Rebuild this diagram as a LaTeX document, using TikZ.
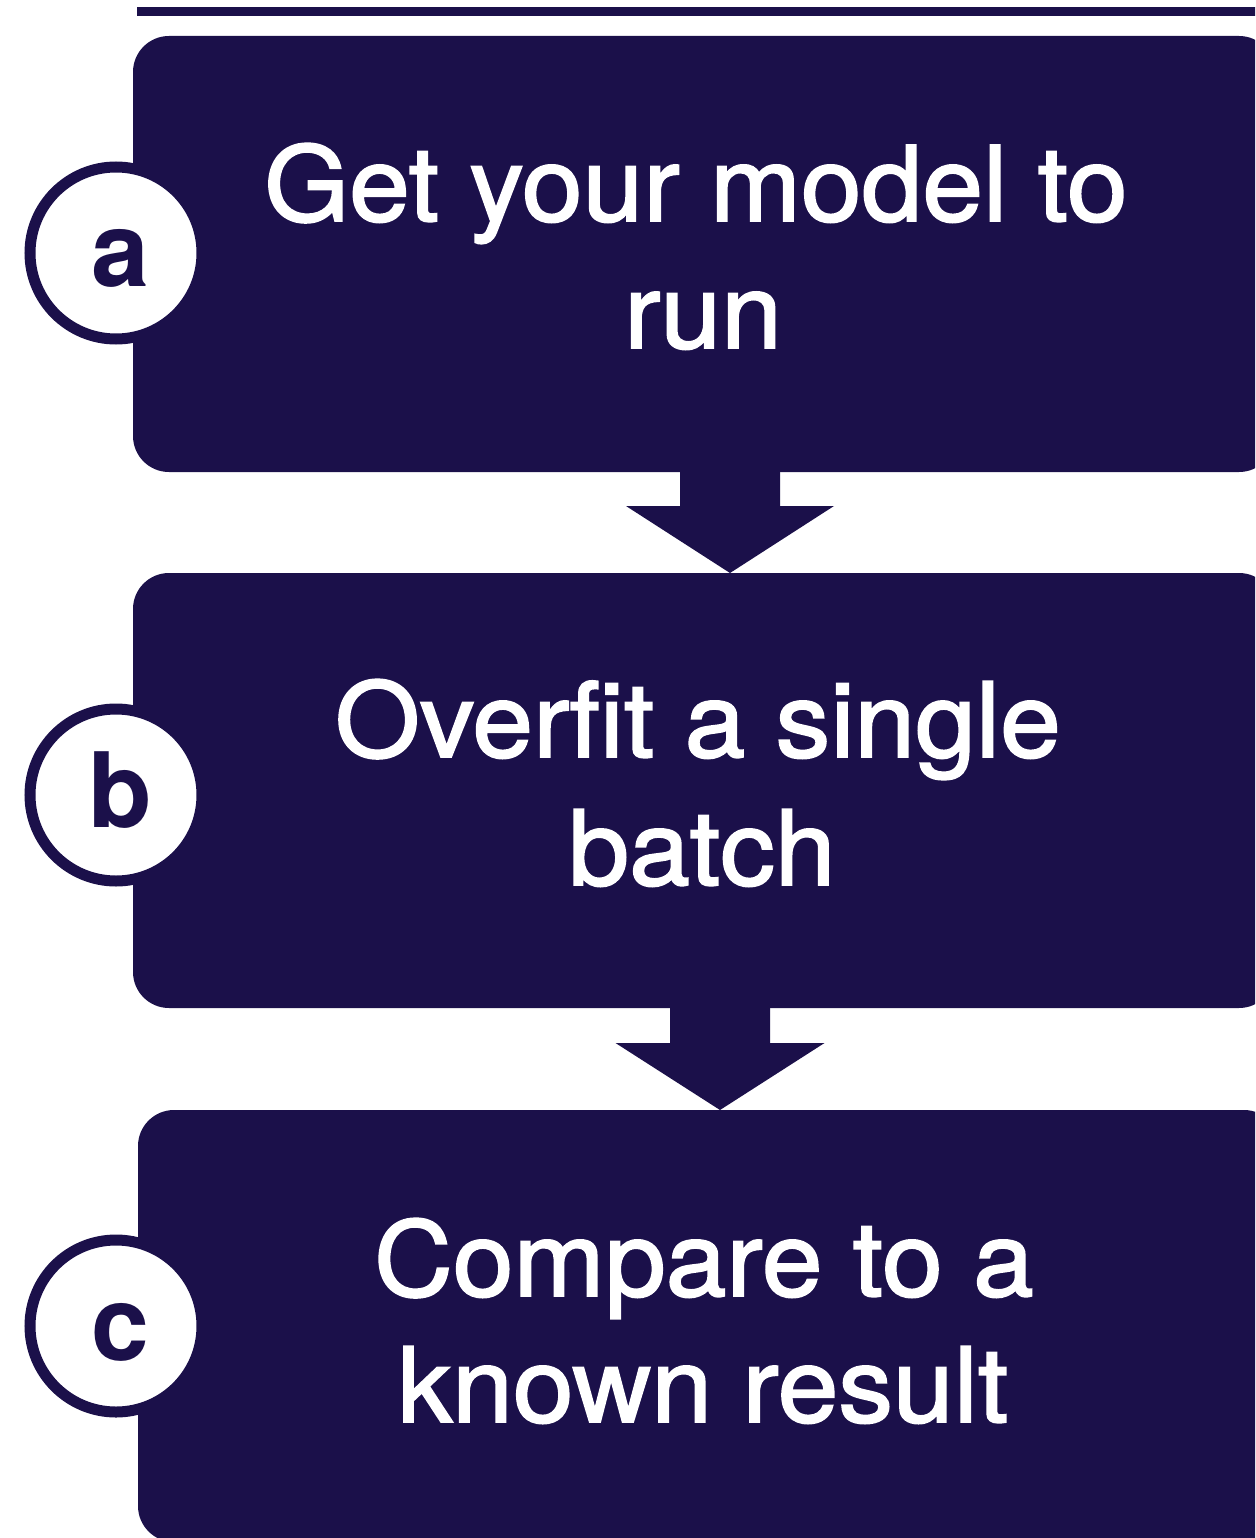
\documentclass[tikz,border=0pt]{standalone}
\usepackage{fontspec}
\setmainfont{TeX Gyre Heros}
\newfontfamily\stepfont[FakeBold=1.8,FakeStretch=1.05]{TeX Gyre Heros}
\begin{document}
\definecolor{navy}{RGB}{27,16,74}
\begin{tikzpicture}[x=1pt,y=-1pt,
  stagebox/.style={draw=none,fill=navy,rectangle,rounded corners=36pt,inner sep=0pt},
  steptext/.style={anchor=base,text=white,inner sep=0pt,font=\stepfont\fontsize{104}{104}\selectfont},
  badge/.style={circle,draw=navy,line width=11pt,fill=white,minimum size=172pt,inner sep=0pt},
  badgeletter/.style={anchor=base,text=navy,inner sep=0pt,font=\bfseries\fontsize{104}{104}\selectfont},
  flowarrow/.style={fill=navy,draw=none}]
\useasboundingbox (0,0) rectangle (1255,1538);
\clip (0,0) rectangle (1255,1538);

% rule along the top
\fill[navy] (137,7) rectangle (1270,16);

% the three stages
\node[stagebox,minimum width=1142pt,minimum height=436pt] (boxa) at (704,254) {};
\node[stagebox,minimum width=1142pt,minimum height=435pt] (boxb) at (704,790.5) {};
\node[stagebox,minimum width=1142pt,minimum height=432pt] (boxc) at (709,1326) {};

% stage captions
\node[steptext] (ta1) at (696,221) {Get your model to};
\node[steptext] (ta2) at (703,348) {run};
\node[steptext] (tb1) at (698,757) {Overfit a single};
\node[steptext] (tb2) at (702,885) {batch};
\node[steptext] (tc1) at (704,1296) {Compare to a};
\node[steptext] (tc2) at (703,1422) {known result};

% block arrows between stages
\coordinate (ab) at (730,472);
\coordinate (bc) at (720,1008);
\fill[flowarrow] (ab) ++(-50,0) -- ++(0,34) -- ++(-54,0) -- ++(104,67) -- ++(104,-67) -- ++(-54,0) -- ++(0,-34) -- cycle;
\fill[flowarrow] (bc) ++(-50,0) -- ++(0,35) -- ++(-54.5,0) -- ++(104.5,67) -- ++(104.5,-67) -- ++(-54.5,0) -- ++(0,-35) -- cycle;

% letter badges
\node[badge] (ca) at (116,253) {};
\node[badge] (cb) at (116,795) {};
\node[badge] (cc) at (116,1326) {};
\node[badgeletter] (la) at (120,287) {a};
\node[badgeletter] (lb) at (120,827) {b};
\node[badgeletter] (lc) at (120,1360) {c};
\end{tikzpicture}
\end{document}
